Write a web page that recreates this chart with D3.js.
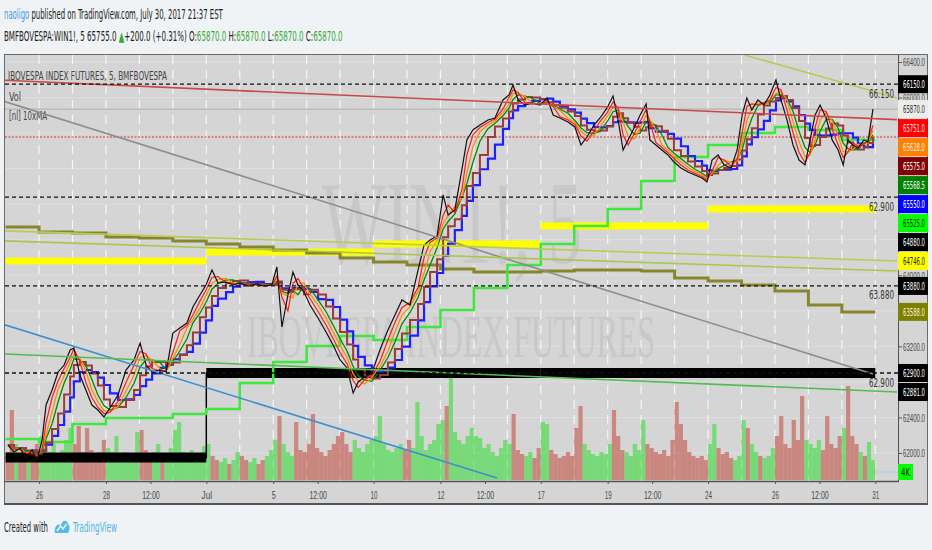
<!DOCTYPE html>
<html>
<head>
<meta charset="utf-8">
<title>WIN1!, 5</title>
<style>
body { margin: 0; background: #f0f3f5; }
svg { display: block; font-family: "Liberation Sans Narrow", "DejaVu Sans Condensed", "Liberation Sans", sans-serif; }
.axis path { display: none; }
.axis line { stroke: #555; }
.axis text { fill: #4a4a4a; }
</style>
</head>
<body>
<svg id="chart" width="932" height="550"></svg>
<script src="https://d3js.org/d3.v7.min.js"></script>
<script>

// ---- price trace: [trading day, price] ----
var priceTrace = [
  [0.07,62090],[0.25,62011],[0.43,62056],[0.61,61944],[0.79,62034],[0.94,61921],
  [1.09,62146],[1.21,62540],[1.39,62709],[1.57,62912],[1.75,62990],[1.93,63159],[2.04,63182],
  [2.22,62878],[2.40,62709],[2.58,62540],[2.76,62484],[2.94,62405],
  [3.12,62506],[3.36,62653],[3.60,62934],[3.84,63047],[4.02,63238],[4.20,62990],[4.38,62912],
  [4.62,62934],[4.80,62912],[5.00,63350],[5.21,63407],[5.42,63463],[5.60,63643],[5.81,63778],
  [5.99,63891],[6.17,64059],[6.35,63913],[6.59,63924],[6.80,63891],[7.01,63913],[7.25,63879],
  [7.49,63902],[7.72,63879],[7.96,63891],[8.11,64093],[8.26,63418],[8.44,63778],[8.59,64037],
  [8.74,63891],[8.92,63812],[9.10,63666],[9.34,63519],[9.58,63362],[9.79,63215],[10.00,63047],
  [10.21,62957],[10.39,62675],[10.54,62799],[10.74,62855],[10.95,62900],[11.19,63159],[11.43,63384],
  [11.64,63553],[11.85,63722],[12.09,63666],[12.33,64059],[12.51,64341],[12.69,64397],[12.90,64442],
  [13.08,64904],[13.23,64678],[13.43,64735],[13.64,65185],[13.79,65523],[13.97,65635],[14.18,65691],
  [14.42,65748],[14.63,65770],[14.87,65973],[15.05,66029],[15.17,66141],[15.32,65973],[15.53,65916],
  [15.74,65939],[15.98,65916],[16.19,65995],[16.37,65804],[16.57,65770],[16.81,65725],[17.02,65669],
  [17.20,65466],[17.38,65556],[17.59,65691],[17.77,65770],[17.98,65883],[18.16,66018],[18.31,65748],
  [18.46,65410],[18.61,65523],[18.79,65658],[18.97,65804],[19.15,65928],[19.26,65523],[19.44,65466],
  [19.62,65410],[19.80,65354],[19.98,65275],[20.19,65207],[20.40,65162],[20.61,65129],[20.82,65095],
  [20.97,65050],[21.12,65297],[21.30,65354],[21.48,65241],[21.69,65207],[21.87,65410],[22.02,65804],
  [22.16,65995],[22.31,65860],[22.49,65973],[22.67,65916],[22.85,66029],[23.03,66198],[23.18,65973],
  [23.36,65748],[23.54,65466],[23.72,65297],[23.90,65241],[24.05,65523],[24.20,65804],[24.35,65916],
  [24.53,65770],[24.71,65523],[24.89,65410],[25.04,65241],[25.18,65523],[25.33,65466],[25.48,65432],
  [25.66,65523],[25.78,65500],[25.93,65870]
];

// volume (thousands), 8 readings per trading day
var volumeByDay = [
  [14,35,18,12,10,14,12,18],[22,16,14,18,12,15,20,26],[18,27,14,26,15,12,14,20],
  [16,14,22,12,14,11,13,24],[25,15,12,14,18,12,13,16],[25,29,14,12,15,11,13,17],
  [18,12,10,9,11,8,10,14],[12,10,9,11,8,10,12,15],[20,32,18,14,12,29,15,14],
  [18,33,16,14,12,15,18,22],[24,18,14,20,16,14,18,20],[22,32,18,15,14,16,18,15],
  [20,16,39,22,15,18,20,28],[30,37,51,24,20,18,22,26],[22,21,16,18,14,12,16,20],
  [18,33,15,13,12,14,11,16],[29,28,15,13,11,12,14,12],[26,37,18,15,13,12,14,13],
  [18,35,22,15,14,12,18,15],[30,18,16,14,13,15,12,20],[39,28,20,14,12,11,12,10],
  [18,28,16,13,14,11,10,12],[30,26,18,14,12,11,12,16],[22,32,18,16,30,20,42,20],
  [18,16,20,15,32,18,16,22],[26,47,22,18,14,12,19,10]
];

// daily step levels
var oliveDaily = [64543,64487,64476,64431,64420,64386,64352,64318,64285,64251,64195,64150,64116,
  64071,64037,64037,64048,64059,64059,64048,63969,63936,63891,63823,63666,63588];
var limeDaily = [62158,62124,62326,62394,62394,62439,62495,62788,63024,63204,63317,63272,63418,
  63609,63857,64116,64352,64555,64746,65061,65331,65466,65601,65669,65635,65525];

// weekly bands
var weekStarts = [0, 6, 11, 16, 21, 26];
var yellowWeekly = [64161, 64262, 64352, 64555, 64746];
var blackWeekly = [61950, 62900, 62900, 62900, 62900];

// trend lines [day, price]
var trendFrom = [[-0.05,66195],[-0.05,65958],[-0.05,63445],[-0.05,63115],[-0.05,64500],[-0.05,64388],[22.1,66478]];
var trendTo   = [[26.65,65751],[25.93,62890],[14.69,61719],[26.65,62686],[26.65,64161],[26.65,64048],[26.65,65995]];

// horizontal levels
var levelValues = [66150, 64880, 63880, 62900];
var levelNotes = ["66.150", "62.900", "63.880", "62.900"];
var lastPrice = 65870;
var redRay = 65556;

// axis
var priceTicks = [62000,62400,62800,63200,63600,64000,64400,64800,65200,65600,66000,66400];
var timeTicks = [1, 3, 4.33, 6, 8, 9.33, 11, 13, 14.33, 16, 18, 19.33, 21, 23, 24.33, 26];
var timeLabels = ["26","28","12:00","Jul","5","12:00","10","12","12:00","17","19","12:00","24","26","12:00","31"];
var markValues = [66150, 65870, 65751, 65628, 65575, 65568.5, 65550, 65525, 64880, 64746, 63880, 63588, 62900, 62881];
var volumeLast = 4;

// styles
var markFill = ["#000","#ececec","#ff0000","#ff8000","#800000","#008000","#0000ff","#00ff00","#000","#ffff00","#000","#808000","#000","#000"];
var markInk  = ["#fff","#333","#ffe0e0","#fff0e0","#fff","#fff","#fff","#222","#fff","#222","#fff","#f4f4d0","#fff","#fff"];
var trendColor = ["#c94848","#8d8d8d","#3b8fcf","#52bd52","#b7cc55","#aac64c","#b7cc55"];

var svg = d3.select("#chart");
var PL = 5, PR = 898, PT = 55, PB = 481;

var x = d3.scaleLinear().domain([0, 26]).range([5.6, 875.3]);
var y = d3.scaleLinear().domain([62000, 66400]).range([453, 62]);
var yv = d3.scaleLinear().domain([0, 50]).range([480, 380]);

// text squeezed to a given width (the reference font is very narrow)
function fit(t, px, py, w, anchor) {
  var n = t.node().getComputedTextLength();
  var k = Math.min(1, w / n);
  var x0 = anchor === "end" ? px - n * k : px;
  t.attr("x", 0).attr("y", 0)
    .attr("transform", "translate(" + x0 + "," + py + ") scale(" + k + ",1)");
  return t;
}
function txt(g, px, py, s, w, size, color, anchor, family) {
  var t = g.append("text").text(s).attr("font-size", size).attr("fill", color);
  if (family) t.attr("font-family", family);
  return fit(t, px, py, w, anchor);
}
function rich(g, px, py, parts, w, size) {
  var t = g.append("text").attr("font-size", size);
  parts.forEach(function(p) { t.append("tspan").attr("fill", p[1]).text(p[0]); });
  return fit(t, px, py, w);
}

// ---------- header ----------
var head = svg.append("g");
rich(head, 4, 19, [["naoligo", "#3d9be0"], [" published on TradingView.com, July 30, 2017 21:37 EST", "#222"]], 219, 14);
var up = "#35a835", ink = "#222";
rich(head, 4, 41, [["BMFBOVESPA:WIN1!, 5 65755.0 ", ink], ["\u25B2", up], ["+200.0 (+0.31%) O:", ink],
  ["65870.0", up], [" H:", ink], ["65870.0", up], [" L:", ink], ["65870.0", up], [" C:", ink],
  ["65870.0", up]], 339, 13.5);

// ---------- frame ----------
svg.append("rect").attr("x", 4.5).attr("y", 54.5).attr("width", 923).attr("height", 450)
  .attr("fill", "#d5d5d5").attr("stroke", "#6a6a6a").attr("stroke-width", 1);
svg.append("line").attr("x1", 4).attr("x2", 928).attr("y1", 504).attr("y2", 504)
  .attr("stroke", "#555").attr("stroke-width", 2);

svg.append("clipPath").attr("id", "plot").append("rect")
  .attr("x", PL).attr("y", PT).attr("width", PR - PL).attr("height", PB - PT);
var plot = svg.append("g").attr("clip-path", "url(#plot)");

// grid
plot.selectAll("line.h").data(priceTicks).enter().append("line")
  .attr("x1", PL).attr("x2", PR).attr("y1", function(d) { return y(d); }).attr("y2", function(d) { return y(d); })
  .attr("stroke", "#dedede").attr("stroke-width", 1);
plot.selectAll("line.v").data(d3.range(1, 27)).enter().append("line")
  .attr("x1", function(d) { return x(d); }).attr("x2", function(d) { return x(d); })
  .attr("y1", PT).attr("y2", PB)
  .attr("stroke", "#f6f6f6").attr("stroke-width", 1.2).attr("stroke-dasharray", "9,6");

// watermark
txt(plot, 322, 263, "WIN1!, 5", 260, 118, "#c8c8c8", null, "Liberation Serif, serif");
txt(plot, 247, 357, "IBOVESPA INDEX FUTURES", 408, 62, "#c8c8c8", null, "Liberation Serif, serif");

// legend text
txt(plot, 8, 80, "IBOVESPA INDEX FUTURES, 5, BMFBOVESPA", 159, 12.5, "#444");
txt(plot, 9, 101, "Vol", 12, 12.5, "#444");
txt(plot, 9, 120, "[nl] 10xMA", 38, 12.5, "#444");

// ---------- volume ----------
var bisect = d3.bisector(function(p) { return p[0]; }).left;
function rising(t) {
  var i = Math.max(1, Math.min(priceTrace.length - 1, bisect(priceTrace, t)));
  return priceTrace[i][1] >= priceTrace[i - 1][1];
}
var volPts = [];
volumeByDay.forEach(function(row, d) {
  row.forEach(function(v, j) { volPts.push({ t: d + (j + 0.5) / 8, v: v }); });
});
plot.selectAll("rect.vol").data(volPts).enter().append("rect")
  .attr("x", function(d) { return x(d.t) - 2.1; })
  .attr("width", 4.2)
  .attr("y", function(d) { return yv(d.v); })
  .attr("height", function(d) { return yv(0) - yv(d.v); })
  .attr("fill", function(d) { return rising(d.t) ? "#38dc38" : "#c25446"; })
  .attr("opacity", 0.6);

// ---------- weekly bands ----------
yellowWeekly.forEach(function(v, i) {
  plot.append("line").attr("x1", x(weekStarts[i])).attr("x2", x(weekStarts[i + 1]))
    .attr("y1", y(v)).attr("y2", y(v)).attr("stroke", "#ffff00").attr("stroke-width", 7);
});
var blackStep = blackWeekly.map(function(v, i) { return [weekStarts[i], v]; })
  .concat([[weekStarts[weekStarts.length - 1], blackWeekly[blackWeekly.length - 1]]]);
plot.append("path").datum(blackStep)
  .attr("d", d3.line().x(function(d) { return x(d[0]); }).y(function(d) { return y(d[1]); }).curve(d3.curveStepAfter))
  .attr("fill", "none").attr("stroke", "#000").attr("stroke-width", 1.5);
blackWeekly.forEach(function(v, i) {
  plot.append("line").attr("x1", x(weekStarts[i])).attr("x2", x(weekStarts[i + 1]))
    .attr("y1", y(v)).attr("y2", y(v)).attr("stroke", "#000").attr("stroke-width", 10);
});

// ---------- daily steps ----------
var stepLine = d3.line().x(function(d) { return x(d[0]); }).y(function(d) { return y(d[1]); }).curve(d3.curveStepAfter);
function daily(arr) {
  return arr.map(function(v, i) { return [i, v]; }).concat([[arr.length, arr[arr.length - 1]]]);
}
plot.append("path").datum(daily(oliveDaily)).attr("d", stepLine)
  .attr("fill", "none").attr("stroke", "#86862a").attr("stroke-width", 3);
plot.append("path").datum(daily(limeDaily)).attr("d", stepLine)
  .attr("fill", "none").attr("stroke", "#3ee83e").attr("stroke-width", 2.5);

// ---------- horizontal lines ----------
plot.append("line").attr("x1", PL).attr("x2", PR).attr("y1", y(lastPrice)).attr("y2", y(lastPrice))
  .attr("stroke", "#b4b4b4").attr("stroke-width", 1.2);
plot.append("line").attr("x1", PL).attr("x2", PR).attr("y1", y(redRay)).attr("y2", y(redRay))
  .attr("stroke", "#e03030").attr("stroke-width", 1.2).attr("stroke-dasharray", "2,1.5");

// ---------- moving averages + price ----------
function sma(n) {
  return priceTrace.map(function(d, i) {
    var s = priceTrace.slice(Math.max(0, i - n + 1), i + 1);
    return [d[0], d3.mean(s, function(p) { return p[1]; })];
  });
}
var line = d3.line().x(function(d) { return x(d[0]); }).y(function(d) { return y(d[1]); });
plot.append("path").datum(sma(7)).attr("d", stepLine).attr("fill", "none").attr("stroke", "#1f1fff").attr("stroke-width", 2.2);
plot.append("path").datum(sma(5)).attr("d", stepLine).attr("fill", "none").attr("stroke", "#9b3b3b").attr("stroke-width", 2);
plot.append("path").datum(sma(4)).attr("d", line).attr("fill", "none").attr("stroke", "#008a00").attr("stroke-width", 1.3);
plot.append("path").datum(sma(3)).attr("d", line).attr("fill", "none").attr("stroke", "#ff8c00").attr("stroke-width", 1.3);
plot.append("path").datum(sma(2)).attr("d", line).attr("fill", "none").attr("stroke", "#ff1a1a").attr("stroke-width", 1.2);
plot.append("path").datum(priceTrace).attr("d", line).attr("fill", "none").attr("stroke", "#111").attr("stroke-width", 1.2);

// ---------- trend lines ----------
trendFrom.forEach(function(a, i) {
  var b = trendTo[i];
  plot.append("line").attr("x1", x(a[0])).attr("y1", y(a[1])).attr("x2", x(b[0])).attr("y2", y(b[1]))
    .attr("stroke", trendColor[i]).attr("stroke-width", 1.6);
});

// ---------- dashed levels ----------
levelValues.forEach(function(v, i) {
  plot.append("line").attr("x1", PL).attr("x2", PR).attr("y1", y(v)).attr("y2", y(v))
    .attr("stroke", "#111").attr("stroke-width", 1.3).attr("stroke-dasharray", "4,3");
  txt(plot, 894, y(v) + 13.5, levelNotes[i], 25, 12, "#333", "end");
});

// volume last value dotted line
plot.append("line").attr("x1", x(25.93)).attr("x2", PR).attr("y1", yv(volumeLast)).attr("y2", yv(volumeLast))
  .attr("stroke", "#8cc4ea").attr("stroke-width", 1.2).attr("stroke-dasharray", "2,2");

// ---------- borders ----------
svg.append("line").attr("x1", PR + 0.5).attr("x2", PR + 0.5).attr("y1", PT).attr("y2", PB)
  .attr("stroke", "#555");
svg.append("line").attr("x1", 4).attr("x2", PR + 1).attr("y1", PB + 0.5).attr("y2", PB + 0.5)
  .attr("stroke", "#555").attr("stroke-width", 1.6);

// ---------- axes ----------
var markY = [];
markValues.forEach(function(v, i) {
  var py = y(v);
  if (i > 0) py = Math.max(py, markY[i - 1] + 19);
  markY.push(py);
});

var yAxis = svg.append("g").attr("class", "axis").attr("transform", "translate(" + PR + ",0)")
  .attr("font-size", 10.5)
  .call(d3.axisRight(y).tickValues(priceTicks).tickSize(4).tickPadding(1)
    .tickFormat(function(d) { return d.toFixed(1); }));
// labels covered by the price markers are dropped, as on the scale
yAxis.selectAll(".tick").filter(function(d) {
  var py = y(d);
  return markY.some(function(m) { return Math.abs(m - py) < 10; });
}).remove();
yAxis.selectAll("text").each(function() {
  var t = d3.select(this).attr("dy", null);
  fit(t, 5, 3.8, 22);
});

var xAxis = svg.append("g").attr("class", "axis").attr("transform", "translate(0," + PB + ")")
  .attr("font-size", 11.5)
  .call(d3.axisBottom(x).tickValues(timeTicks).tickSize(3).tickPadding(8)
    .tickFormat(function(d, i) { return timeLabels[i]; }));
xAxis.selectAll("text").each(function(d, i) {
  var t = d3.select(this).attr("dy", null).attr("text-anchor", "start");
  var w = Math.max(4, timeLabels[i].length * 3.5);
  fit(t, -w / 2, 18, w);
});

// price markers on the scale
var marks = svg.append("g");
markValues.forEach(function(v, i) {
  marks.append("rect").attr("x", PR).attr("y", markY[i] - 9).attr("width", 30).attr("height", 18)
    .attr("fill", markFill[i]);
  txt(marks, PR + 5, markY[i] + 3.8, v.toFixed(1), 22, 10.5, markInk[i]);
});
marks.append("rect").attr("x", PR).attr("y", yv(volumeLast) - 8).attr("width", 15).attr("height", 16)
  .attr("fill", "#00ff00");
txt(marks, PR + 3, yv(volumeLast) + 3.8, volumeLast + "K", 9, 10.5, "#222");

// ---------- footer ----------
var foot = svg.append("g");
txt(foot, 4, 532, "Created with", 44, 14, "#222");
foot.append("path")
  .attr("d", "M55,533 C54,527 57,523 61,525 C62,520 67,519 68,524 C70,525 70,530 68,533 Z")
  .attr("fill", "#56b9e8");
foot.append("path").attr("d", "M57,531 L60.5,526 L63,529 L66.5,524")
  .attr("fill", "none").attr("stroke", "#f0f3f5").attr("stroke-width", 1.4);
txt(foot, 73, 532, "TradingView", 44, 14, "#4fb4e6");

</script>
</body>
</html>
